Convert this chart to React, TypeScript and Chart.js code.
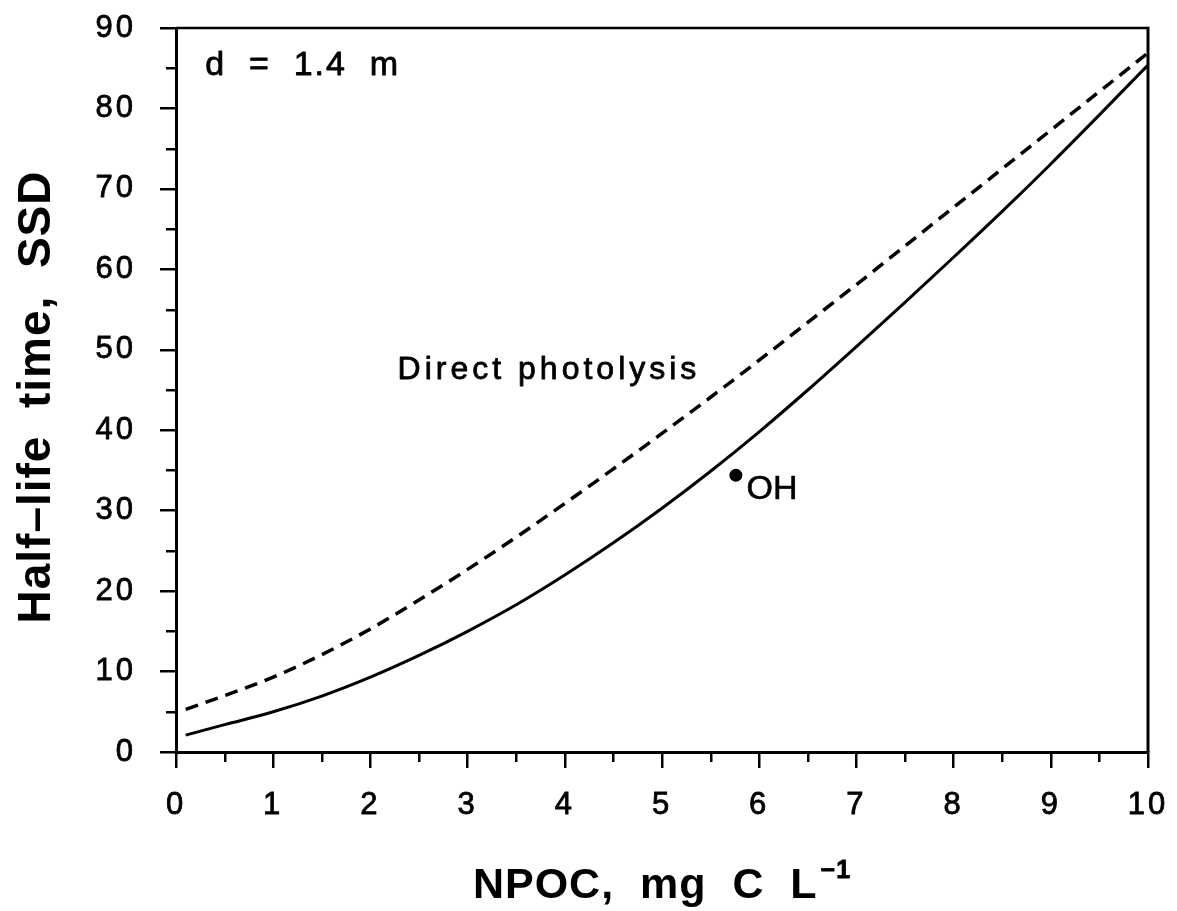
import React, { useEffect, useRef } from "react";
import { Chart, registerables } from "chart.js";

Chart.register(...registerables);

// ---- Data ----
const npoc = [0.1, 0.5, 1, 1.5, 2, 2.5, 3, 3.5, 4, 4.5, 5, 5.5, 6, 6.5, 7, 7.5, 8, 8.5, 9, 9.5, 10];
const halfLifeOH = [2.1, 3.4, 5.0, 6.95, 9.3, 12.0, 15.0, 18.3, 22.0, 26.0, 30.3, 34.9, 39.8, 45.0, 50.4, 55.9, 61.5, 67.2, 73.1, 79.2, 85.4];
const halfLifeDirect = [5.3, 7.0, 9.3, 12.1, 15.3, 18.9, 22.7, 26.7, 30.9, 35.2, 39.6, 44.1, 48.7, 53.4, 58.1, 62.9, 67.7, 72.5, 77.3, 82.1, 86.9];
const ohPointNpoc = [5.76];
const ohPointHalfLife = [34.4];

const xMin = 0, xMax = 10, xStep = 1;
const yMin = 0, yMax = 90, yStep = 10;

const FONT = '"Liberation Sans", Arial, Helvetica, sans-serif';

function heavyText(ctx: CanvasRenderingContext2D, text: string, x: number, y: number, stroke: number) {
  ctx.fillText(text, x, y);
  if (stroke > 0) {
    ctx.lineWidth = stroke;
    ctx.lineJoin = "round";
    ctx.strokeText(text, x, y);
  }
}

const decorPlugin = {
  id: "decor",
  beforeDraw(chart: any) {
    (chart.ctx as any).letterSpacing = "3px";
  },
  afterDraw(chart: any) {
    const { ctx, chartArea: a, scales } = chart;
    const x = scales.x;
    const y = scales.y;
    ctx.save();
    (ctx as any).letterSpacing = "0px";
    ctx.strokeStyle = "#000";
    ctx.lineCap = "butt";

    // minor ticks
    ctx.lineWidth = 2.5;
    ctx.beginPath();
    for (let v = yMin + yStep / 2; v < yMax; v += yStep) {
      const py = Math.round(y.getPixelForValue(v)) + 0.25;
      ctx.moveTo(a.left - 10, py);
      ctx.lineTo(a.left, py);
    }
    for (let v = xMin + xStep / 2; v < xMax; v += xStep) {
      const px = Math.round(x.getPixelForValue(v)) + 0.25;
      ctx.moveTo(px, a.bottom);
      ctx.lineTo(px, a.bottom + 10);
    }
    ctx.stroke();

    // top and right frame
    ctx.lineWidth = 2.5;
    ctx.beginPath();
    ctx.moveTo(a.left, a.top);
    ctx.lineTo(a.right, a.top);
    ctx.stroke();
    ctx.lineWidth = 3;
    ctx.beginPath();
    ctx.moveTo(a.right, a.top - 1.25);
    ctx.lineTo(a.right, a.bottom);
    ctx.stroke();

    ctx.fillStyle = "#000";
    ctx.textBaseline = "alphabetic";

    // annotations
    ctx.textAlign = "left";
    ctx.font = `34px ${FONT}`;
    (ctx as any).letterSpacing = "2px";
    heavyText(ctx, "d  =  1.4  m", x.getPixelForValue(0.3), y.getPixelForValue(84.2), 0.8);

    ctx.font = `32px ${FONT}`;
    (ctx as any).letterSpacing = "4px";
    heavyText(ctx, "Direct photolysis", x.getPixelForValue(2.28), y.getPixelForValue(46.4), 0.8);

    ctx.font = `34px ${FONT}`;
    (ctx as any).letterSpacing = "0px";
    heavyText(ctx, "OH", x.getPixelForValue(5.87), y.getPixelForValue(31.45), 0.6);

    // y axis title
    ctx.save();
    ctx.translate(50, 397);
    ctx.rotate(-Math.PI / 2);
    ctx.textAlign = "center";
    ctx.font = `bold 46px ${FONT}`;
    (ctx as any).letterSpacing = "1px";
    heavyText(ctx, "Half\u2013life  time,  SSD", 0, 0, 0);
    ctx.restore();

    // x axis title with superscript
    const main = "NPOC,  mg  C  L";
    const sup = "\u22121";
    ctx.font = `bold 43px ${FONT}`;
    (ctx as any).letterSpacing = "1px";
    const wMain = ctx.measureText(main).width;
    ctx.font = `bold 25px ${FONT}`;
    const wSup = ctx.measureText(sup).width;
    const total = wMain + 3 + wSup;
    const cx = (a.left + a.right) / 2;
    const startX = cx - total / 2;
    const base = 898;
    ctx.textAlign = "left";
    ctx.font = `bold 43px ${FONT}`;
    ctx.fillText(main, startX, base);
    ctx.font = `bold 25px ${FONT}`;
    heavyText(ctx, sup, startX + wMain + 3, base - 20, 0.8);

    ctx.restore();
  },
};

export default function App() {
  const canvasRef = useRef<HTMLCanvasElement | null>(null);

  useEffect(() => {
    if (!canvasRef.current) return;
    const ohLine = npoc.map((v, i) => ({ x: v, y: halfLifeOH[i] }));
    const directLine = npoc.map((v, i) => ({ x: v, y: halfLifeDirect[i] }));
    const ohPoint = ohPointNpoc.map((v, i) => ({ x: v, y: ohPointHalfLife[i] }));

    const zeroPad = (s: any) => {
      s.paddingTop = 0;
      s.paddingBottom = 0;
      s.paddingLeft = 0;
      s.paddingRight = 0;
    };

    const chart = new Chart(canvasRef.current, {
      type: "line",
      data: {
        datasets: [
          {
            label: "OH",
            data: ohLine,
            borderColor: "#000",
            borderWidth: 3,
            pointRadius: 0,
            cubicInterpolationMode: "monotone",
            fill: false,
          },
          {
            label: "Direct photolysis",
            data: directLine,
            borderColor: "#000",
            borderWidth: 3.5,
            borderDash: [13, 8],
            pointRadius: 0,
            cubicInterpolationMode: "monotone",
            fill: false,
          },
          {
            label: "OH point",
            data: ohPoint,
            showLine: false,
            pointRadius: 6.5,
            pointBackgroundColor: "#000",
            pointBorderColor: "#000",
            pointBorderWidth: 0,
          },
        ],
      } as any,
      options: {
        animation: false,
        responsive: false,
        events: [],
        layout: { padding: { top: 28, right: 29, left: 0, bottom: 0 } },
        plugins: {
          legend: { display: false },
          tooltip: { enabled: false },
          title: { display: false },
        },
        scales: {
          x: {
            type: "linear",
            min: xMin,
            max: xMax,
            afterFit: (s: any) => {
              s.height = 159;
              zeroPad(s);
            },
            ticks: {
              stepSize: xStep,
              color: "#000",
              font: { family: FONT, size: 31 },
              padding: 19,
              maxRotation: 0,
              autoSkip: false,
              textStrokeColor: "#000",
              textStrokeWidth: 0.8,
            },
            grid: {
              display: true,
              drawOnChartArea: false,
              drawTicks: true,
              tickLength: 16,
              color: "#000",
              lineWidth: 2.5,
            },
            border: { display: true, color: "#000", width: 3 },
          },
          y: {
            type: "linear",
            min: yMin,
            max: yMax,
            afterFit: (s: any) => {
              s.width = 176;
              zeroPad(s);
            },
            ticks: {
              stepSize: yStep,
              color: "#000",
              font: { family: FONT, size: 31 },
              padding: 24,
              autoSkip: false,
              textStrokeColor: "#000",
              textStrokeWidth: 0.8,
            },
            grid: {
              display: true,
              drawOnChartArea: false,
              drawTicks: true,
              tickLength: 16,
              color: "#000",
              lineWidth: 2.5,
            },
            border: { display: true, color: "#000", width: 3 },
          },
        },
      } as any,
      plugins: [decorPlugin],
    });
    return () => chart.destroy();
  }, []);

  return (
    <div style={{ position: "fixed", left: 0, top: 0, width: 1177, height: 911, background: "#fff" }}>
      <canvas ref={canvasRef} width={1177} height={911} style={{ display: "block" }} />
    </div>
  );
}
